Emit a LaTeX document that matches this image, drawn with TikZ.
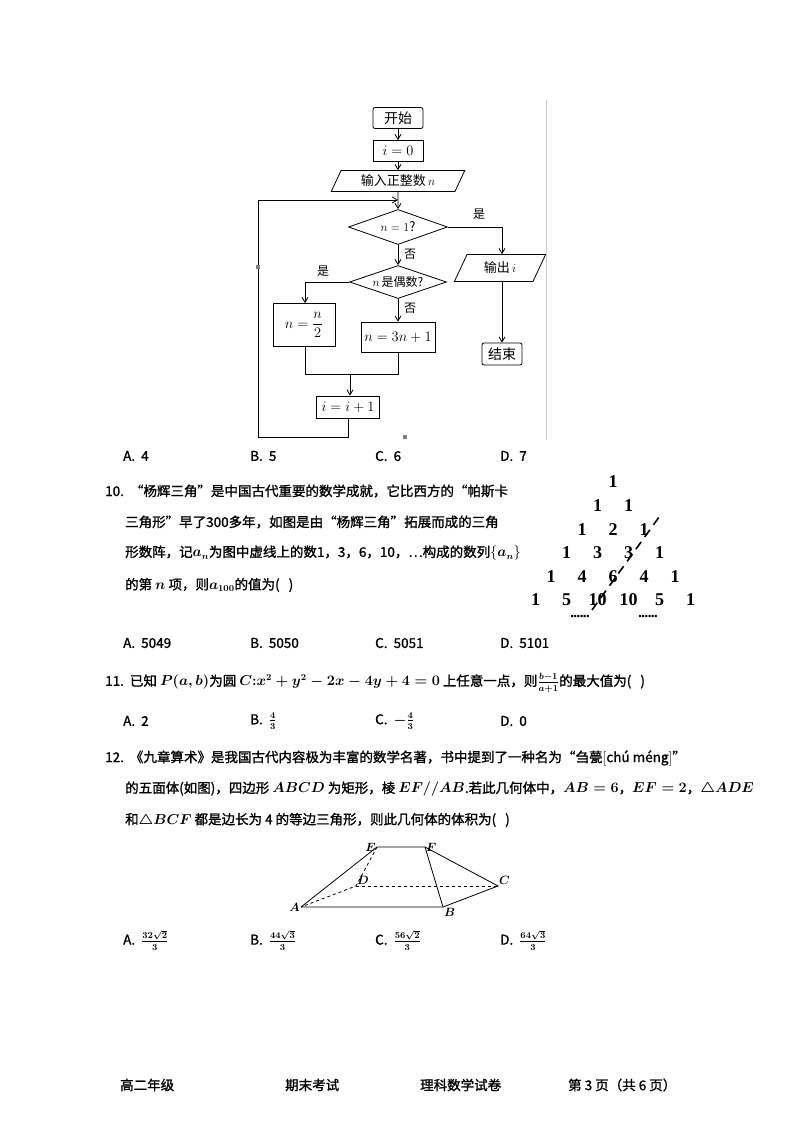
\documentclass[tikz,border=0pt]{standalone}
\usepackage{amsmath}
\usepackage{fontspec}
\setmainfont{Noto Sans CJK SC}[FakeBold=1.3]
\newfontfamily\song{Noto Sans CJK SC}
\newfontfamily\serifb{Liberation Serif}
\usetikzlibrary{shapes.geometric,arrows.meta}
\begin{document}
\begin{tikzpicture}[x=1pt,y=-1pt,
  box/.style={draw,thick,minimum width=50pt,minimum height=21pt,inner sep=1pt,font=\song\fontsize{14}{15}\selectfont},
  rbox/.style={box,rounded corners=2pt},
  para/.style={draw,thick,trapezium,trapezium left angle=65,trapezium right angle=115,inner sep=1pt,font=\song\fontsize{13}{14}\selectfont},
  dia/.style={draw,thick,diamond,aspect=2.9,inner sep=0pt,font=\song\fontsize{13}{14}\selectfont},
  arr/.style={thick,-{Straight Barb[length=5pt,width=6pt]}},
  ln/.style={thick},
  lab/.style={font=\song\fontsize{12}{12}\selectfont},
  txt/.style={anchor=west,inner sep=0pt,font=\fontsize{13.5}{15}\selectfont},
  num/.style={inner sep=0pt,font=\serifb\bfseries\fontsize{18}{18}\selectfont}]
\useasboundingbox (0,0) rectangle (794,1122);
% flowchart
\node[rbox,minimum width=50pt] (st) at (398,118) {开始};
\node[box] (i0) at (398,151) {$i=0$};
\node[para,minimum width=100pt,minimum height=21pt] (in) at (398,181) {输入正整数\,$n$};
\node[dia,minimum width=99pt,minimum height=35pt] (d1) at (398,227) {$n=1$?};
\node[dia,minimum width=97pt,minimum height=33pt] (d2) at (398,282) {\fontsize{12}{12}\selectfont$n$\,是偶数?};
\node[para,minimum width=64pt,minimum height=27pt] (out) at (500,268) {输出\,$i$};
\node[rbox,minimum width=40pt,minimum height=22pt] (end) at (502,354) {结束};
\node[box,minimum width=62pt,minimum height=43pt] (half) at (304,325) {$n=\dfrac{n}{2}$};
\node[box,minimum width=74pt,minimum height=30pt] (tri) at (398,337) {$n=3n+1$};
\node[box,minimum width=63pt,minimum height=22pt] (inc) at (348,407) {$i=i+1$};
\coordinate (top) at (398,200);
\coordinate (lt) at (258,200);
\coordinate (lb) at (258,437);
\coordinate (ib) at (348,437);
\coordinate (r1) at (502,227);
\coordinate (l2) at (305,282);
\coordinate (m) at (350,374);
\coordinate (ml) at (305,374);
\coordinate (mr) at (398,374);
\draw[arr] (st) -- (i0);
\draw[arr] (i0) -- (in);
\draw[arr] (in) -- (d1);
\draw[arr] (d1) -- (d2);
\draw[arr] (d2) -- (tri);
\draw[ln] (d1.east) -- (r1);
\draw[arr] (r1) -- (out.north -| r1);
\draw[arr] (out.south -| end) -- (end);
\draw[ln] (d2.west) -- (l2);
\draw[arr] (l2) -- (half.north -| l2);
\draw[ln] (half.south -| ml) -- (ml) -- (mr) -- (tri.south -| mr);
\draw[arr] (m) -- (inc.north -| m);
\draw[ln] (inc.south) -- (ib) -- (lb) -- (lt);
\draw[arr] (lt) -- (top);
\node[lab] at (479,214) {是};
\node[lab] at (410,254) {否};
\node[lab] at (323,271) {是};
\node[lab] at (410,308) {否};
\fill[gray] (256,265) rectangle (260,269);
\fill[gray] (403,435) rectangle (407,439);
\draw[gray!40] (546,100) -- (546,440);
% answers 9
\node[txt] at (123,456) {A.\ \ 4};
\node[txt] at (250,456) {B.\ \ 5};
\node[txt] at (375,456) {C.\ \ 6};
\node[txt] at (500,456) {D.\ \ 7};
% Q10
\node[txt] at (105,491) {10.\ \ “杨辉三角”是中国古代重要的数学成就，它比西方的“帕斯卡};
\node[txt] at (125,522) {三角形”早了300多年，如图是由“杨辉三角”拓展而成的三角};
\node[txt] at (125,553) {形数阵，记$\boldsymbol{a_n}$为图中虚线上的数1，3，6，10，…构成的数列$\{\boldsymbol{a_n}\}$};
\node[txt] at (125,585) {的第\ $\boldsymbol{n}$\ 项，则$\boldsymbol{a_{100}}$的值为(\ \ \ )};
% triangle
\foreach \k/\row in {0/{1},1/{1,1},2/{1,2,1},3/{1,3,3,1},4/{1,4,6,4,1},5/{1,5,10,10,5,1}}{
  \foreach \v [count=\j from 0] in \row {
    \pgfmathsetmacro\xx{613+(\j-\k/2)*31}
    \pgfmathsetmacro\yy{482+\k*23.6}
    \node[num] (t\k\j) at (\xx,\yy) {\v};
  }
}
\coordinate (ds) at (592,610);
\coordinate (de) at (662,513);
\draw[line width=1.6pt,dash pattern=on 9pt off 6pt] (ds) -- (de);
\node[num] (dl) at (580,617) {\fontsize{9}{9}\selectfont••••••};
\node[num] (dr) at (648,617) {\fontsize{9}{9}\selectfont••••••};
% answers 10
\node[txt] at (123,643) {A.\ \ 5049};
\node[txt] at (250,643) {B.\ \ 5050};
\node[txt] at (375,643) {C.\ \ 5051};
\node[txt] at (500,643) {D.\ \ 5101};
% Q11
\node[txt] at (105,683) {11.\ \ 已知\ $\boldsymbol{P(a,b)}$为圆\ $\boldsymbol{C{:}x^2+y^2-2x-4y+4=0}$\ 上任意一点，则$\boldsymbol{\tfrac{b-1}{a+1}}$的最大值为(\ \ \ )};
\node[txt] at (123,721) {A.\ \ 2};
\node[txt] at (250,721) {B.\ \ $\boldsymbol{\frac{4}{3}}$};
\node[txt] at (375,721) {C.\ \ $\boldsymbol{-\frac{4}{3}}$};
\node[txt] at (500,721) {D.\ \ 0};
% Q12
\node[txt] at (105,758) {12.\ \ 《九章算术》是我国古代内容极为丰富的数学名著，书中提到了一种名为“刍甍$[\textit{chú méng}]$”};
\node[txt] at (125,789) {的五面体(如图)，四边形\ $\boldsymbol{ABCD}$\ 为矩形，棱\ $\boldsymbol{EF//AB}$.若此几何体中，$\boldsymbol{AB=6}$，$\boldsymbol{EF=2}$，$\boldsymbol{\triangle ADE}$};
\node[txt] at (125,820) {和$\boldsymbol{\triangle BCF}$\ 都是边长为\ 4\ 的等边三角形，则此几何体的体积为(\ \ \ )};
% solid
\coordinate (A) at (301,907);
\coordinate (B) at (443,907);
\coordinate (C) at (498,886);
\coordinate (D) at (356,886);
\coordinate (E) at (377,847);
\coordinate (F) at (425,847);
\draw[thick] (A) -- (E) -- (F) -- (C) -- (B) -- (A);
\draw[thick] (F) -- (B);
\draw[thick,dashed] (E) -- (D) -- (A);
\draw[thick,dashed] (D) -- (C);
\tikzset{pl/.style={inner sep=1pt,font=\fontsize{12}{12}\selectfont}}
\node[pl,left] (lA) at (A) {$\boldsymbol{A}$};
\node[pl,below right] (lB) at (B) {$\boldsymbol{B}$};
\node[pl,above right] (lC) at (C) {$\boldsymbol{C}$};
\node[pl,above right] (lD) at (D) {$\boldsymbol{D}$};
\node[pl,left] (lE) at (E) {$\boldsymbol{E}$};
\node[pl,right] (lF) at (F) {$\boldsymbol{F}$};
\node[txt] at (123,940) {A.\ \ $\boldsymbol{\frac{32\sqrt2}{3}}$};
\node[txt] at (250,940) {B.\ \ $\boldsymbol{\frac{44\sqrt3}{3}}$};
\node[txt] at (375,940) {C.\ \ $\boldsymbol{\frac{56\sqrt2}{3}}$};
\node[txt] at (500,940) {D.\ \ $\boldsymbol{\frac{64\sqrt3}{3}}$};
% footer
\node[txt] at (120,1085) {高二年级};
\node[txt] at (285,1085) {期末考试};
\node[txt] at (420,1085) {理科数学试卷};
\node[txt] at (568,1085) {第\ 3\ 页（共\ 6\ 页）};
\end{tikzpicture}
\end{document}
